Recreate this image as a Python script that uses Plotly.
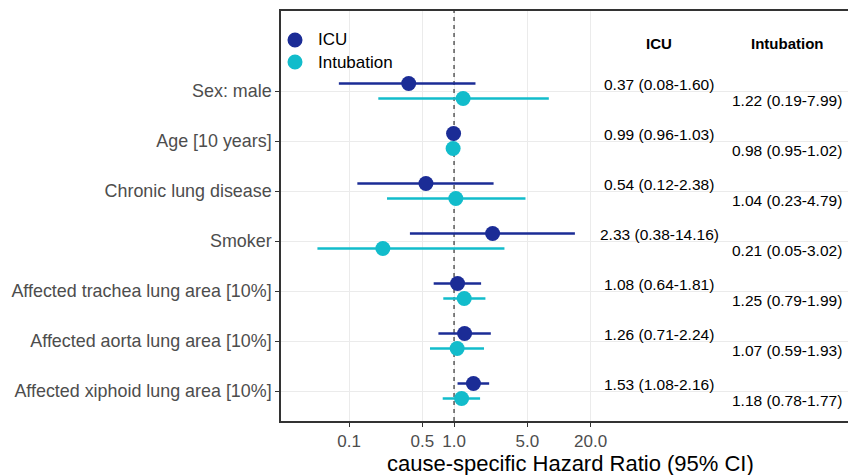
import plotly.graph_objects as go

categories = ["Sex: male", "Age [10 years]", "Chronic lung disease", "Smoker",
              "Affected trachea lung area [10%]", "Affected aorta lung area [10%]",
              "Affected xiphoid lung area [10%]"]
icu_hr = [0.37, 0.99, 0.54, 2.33, 1.08, 1.26, 1.53]
icu_lo = [0.08, 0.96, 0.12, 0.38, 0.64, 0.71, 1.08]
icu_hi = [1.60, 1.03, 2.38, 14.16, 1.81, 2.24, 2.16]
int_hr = [1.22, 0.98, 1.04, 0.21, 1.25, 1.07, 1.18]
int_lo = [0.19, 0.95, 0.23, 0.05, 0.79, 0.59, 0.78]
int_hi = [7.99, 1.02, 4.79, 3.02, 1.99, 1.93, 1.77]
x_ticks = [0.1, 0.5, 1.0, 5.0, 20.0]
x_ticklabels = ["0.1", "0.5", "1.0", "5.0", "20.0"]
series_names = ["ICU", "Intubation"]

ICU_COL = "#1B2C96"
INT_COL = "#12BCCB"
FONT = "Arial, Liberation Sans, sans-serif"

W, H = 848, 475
L, R, T, B = 281, 0, 11, 54
PW, PH = W - L - R, H - T - B

def px_x(p):
    return (p - L) / PW

def px_y(p):
    return 1 - (p - T) / PH

n = len(categories)
ypos = [n - i for i in range(n)]
off = 0.15

fig = go.Figure()

# reference line at HR = 1
fig.add_trace(go.Scatter(x=[1, 1], y=[0.4, n + 1.6], mode="lines",
                         line=dict(color="#333333", width=1.2, dash="4px,4px"),
                         showlegend=False, hoverinfo="skip"))

def add_series(name, hr, lo, hi, color, dy):
    fig.add_trace(go.Scatter(
        x=hr, y=[y + dy for y in ypos], mode="markers", name=name,
        marker=dict(color=color, size=15), showlegend=False,
        error_x=dict(type="data", symmetric=False,
                     array=[h - m for h, m in zip(hi, hr)],
                     arrayminus=[m - l for m, l in zip(hr, lo)],
                     color=color, thickness=2.6, width=0),
    ))

add_series(series_names[0], icu_hr, icu_lo, icu_hi, ICU_COL, off)
add_series(series_names[1], int_hr, int_lo, int_hi, INT_COL, -off)

annotations = []
shapes = []
icu_x = px_x(659)
int_x = px_x(787)
for i, y in enumerate(ypos):
    annotations.append(dict(x=icu_x, xref="paper", y=y + 0.13, yref="y",
                            text=f"{icu_hr[i]:.2f} ({icu_lo[i]:.2f}-{icu_hi[i]:.2f})",
                            showarrow=False, xanchor="center", yanchor="middle",
                            font=dict(size=15.5, color="black", family=FONT)))
    annotations.append(dict(x=int_x, xref="paper", y=y - 0.18, yref="y",
                            text=f"{int_hr[i]:.2f} ({int_lo[i]:.2f}-{int_hi[i]:.2f})",
                            showarrow=False, xanchor="center", yanchor="middle",
                            font=dict(size=15.5, color="black", family=FONT)))
for txt, xx in [(series_names[0], icu_x), (series_names[1], int_x)]:
    annotations.append(dict(x=xx, xref="paper", y=n + 0.96, yref="y",
                            text=f"<b>{txt}</b>", showarrow=False,
                            xanchor="center", yanchor="middle",
                            font=dict(size=15, color="black", family=FONT)))
annotations.append(dict(x=px_x(570), xref="paper", y=px_y(463), yref="paper",
                        text="cause-specific Hazard Ratio (95% CI)", showarrow=False,
                        xanchor="center", yanchor="middle",
                        font=dict(size=22, color="black", family=FONT)))

# manual legend
for name, col, yy in [(series_names[0], ICU_COL, 40), (series_names[1], INT_COL, 62)]:
    shapes.append(dict(type="circle", xref="paper", yref="paper",
                       xsizemode="pixel", ysizemode="pixel",
                       xanchor=px_x(295), yanchor=px_y(yy),
                       x0=-7.5, x1=7.5, y0=-7.5, y1=7.5,
                       fillcolor=col, line=dict(width=0)))
    annotations.append(dict(x=px_x(316), xref="paper", y=px_y(yy), yref="paper",
                            text=name, showarrow=False, xanchor="left", yanchor="middle",
                            font=dict(size=17, color="black", family=FONT)))

fig.update_layout(
    width=W, height=H,
    margin=dict(l=L, r=R, t=T, b=B),
    paper_bgcolor="white", plot_bgcolor="white",
    font=dict(family=FONT),
    showlegend=False,
    annotations=annotations,
    shapes=shapes,
)
fig.update_xaxes(type="log", range=[-1.648, 3.752],
                 tickvals=x_ticks, ticktext=x_ticklabels,
                 tickfont=dict(size=17, color="#4D4D4D", family=FONT),
                 ticks="outside", ticklen=4, tickcolor="#333333",
                 showgrid=True, gridcolor="#EBEBEB", gridwidth=1.2,
                 showline=True, linecolor="#333333", linewidth=1.5, mirror=True,
                 zeroline=False)
fig.update_yaxes(range=[0.4, n + 1.6],
                 tickvals=ypos, ticktext=categories,
                 tickfont=dict(size=17.9, color="#4D4D4D", family=FONT),
                 ticks="outside", ticklen=4, tickcolor="#333333",
                 showgrid=True, gridcolor="#EBEBEB", gridwidth=1.2,
                 showline=True, linecolor="#333333", linewidth=1.5, mirror=False,
                 zeroline=False)

fig.write_html("out.html")
